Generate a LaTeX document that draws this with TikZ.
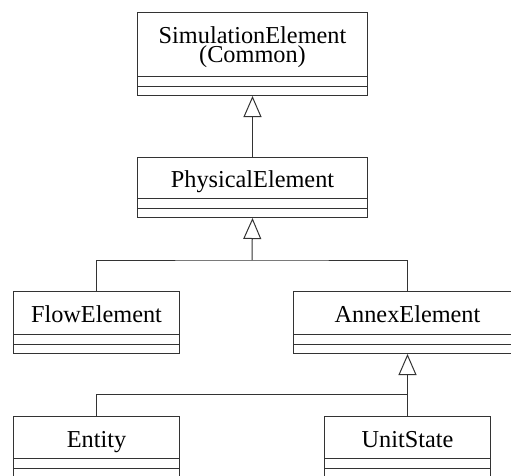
\documentclass[tikz,border=0pt]{standalone}
\usepackage{fontspec}
\setmainfont{Liberation Serif}
\usetikzlibrary{arrows.meta,calc}
\newcommand\umlcls[7]{%
  \node[cls,minimum width=#4,minimum height=#5+20] (#1) at (#2,#3) {};
  \draw[ln] ($(#1.south west)+(0,-10)$) -- ($(#1.south east)+(0,-10)$);
  \draw[ln] ($(#1.south west)+(0,-20)$) -- ($(#1.south east)+(0,-20)$);
  \node[nm] (#1T) at ($(#1.north)+(0,#6)$) {#7};
}
\begin{document}
\begin{tikzpicture}[x=1pt,y=-1pt,
  ln/.style={draw=black!80,line width=1pt},
  cls/.style={ln,rectangle,anchor=north west,inner sep=0pt},
  nm/.style={anchor=base,inner sep=0pt,font=\fontsize{24.3}{19.5}\selectfont,text=black,align=center},
  gen/.style={ln,-{Triangle[open,length=21pt,width=18pt]}},
  cn/.style={ln}]
\useasboundingbox (0,0) rectangle (511,475);
\clip (0,0) rectangle (511,475);
\umlcls{sim}{137}{12}{230}{63}{50.5}{SimulationElement\\(Common)}
\umlcls{phys}{137}{157}{230}{40}{30}{PhysicalElement}
\umlcls{flow}{13}{291}{166}{42}{31}{FlowElement}
\umlcls{annex}{293}{291}{228}{42}{31}{AnnexElement}
\umlcls{entity}{13}{416}{166}{41}{31}{Entity}
\umlcls{unit}{324}{416}{166}{41}{31}{UnitState}
\coordinate (j1) at (252,260);
\coordinate (j2) at (407,394);
\draw[gen] (phys.north) -- (sim.south);
\draw[gen] (j1) -- (phys.south);
\draw[cn] (flow.north) |- (j1) -| (annex.north);
\draw[gen] (unit.north) -- (annex.south);
\draw[cn] (entity.north) |- (j2);
\end{tikzpicture}
\end{document}
